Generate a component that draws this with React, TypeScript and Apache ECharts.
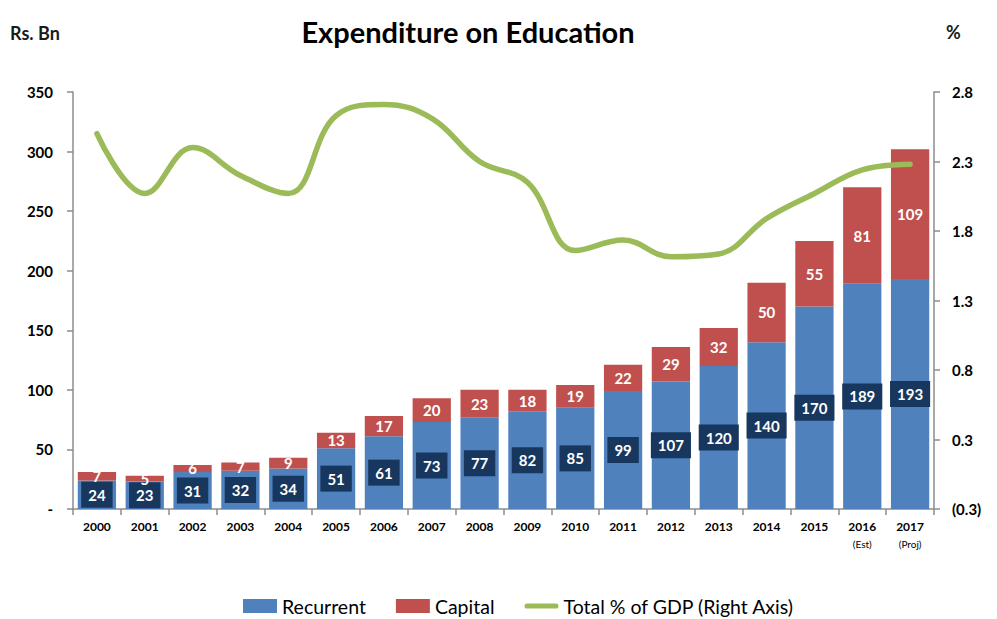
import React, { useEffect, useRef } from "react";
import * as echarts from "echarts";

const categories = ["2000","2001","2002","2003","2004","2005","2006","2007","2008","2009","2010","2011","2012","2013","2014","2015","2016","2017"];
const categoryNotes: Record<string, string> = { "2016": "(Est)", "2017": "(Proj)" };
const recurrent = [24,23,31,32,34,51,61,73,77,82,85,99,107,120,140,170,189,193];
const capital = [7,5,6,7,9,13,17,20,23,18,19,22,29,32,50,55,81,109];
const gdpShare = [2.5,2.07,2.4,2.2,2.07,2.63,2.71,2.61,2.3,2.15,1.66,1.735,1.615,1.635,1.89,2.07,2.24,2.28];
const leftTickLabels = ["-","50","100","150","200","250","300","350"];
const rightTickLabels = ["(0.3)","0.3","0.8","1.3","1.8","2.3","2.8"];

const FONT = "Lato, 'Open Sans', sans-serif";

export default function App() {
  const ref = useRef<HTMLDivElement>(null);
  useEffect(() => {
    document.body.style.margin = "0";
    if (!ref.current) return;
    const chart = echarts.init(ref.current, undefined, { renderer: "svg" });
    chart.setOption({
      animation: false,
      backgroundColor: "#ffffff",
      textStyle: { fontFamily: FONT },
      title: {
        text: "Expenditure on Education",
        left: 463,
        textAlign: "center",
        top: 12,
        textStyle: { fontFamily: FONT, fontSize: 29, fontWeight: "bold", color: "#000" },
      },
      graphic: [
        { type: "text", left: 10, top: 24, style: { text: "Rs. Bn", font: `bold 18px ${FONT}`, fill: "#1a1a1a" } },
        { type: "text", left: 946, top: 23, style: { text: "%", font: `bold 18px ${FONT}`, fill: "#1a1a1a" } },
      ],
      legend: {
        top: 596,
        left: 243,
        padding: 0,
        itemGap: 30,
        itemWidth: 34,
        itemHeight: 14,
        textStyle: { fontFamily: FONT, fontSize: 19.5, color: "#000", lineHeight: 20 },
        data: [
          { name: "Recurrent", icon: "rect" },
          { name: "Capital", icon: "rect" },
          { name: "Total % of GDP (Right Axis)", icon: "path://M3,0 H37 A3,3 0 0 1 37,6 H3 A3,3 0 0 1 3,0 Z" },
        ],
      },
      grid: { left: 73, right: 63, top: 92, bottom: 110, containLabel: false },
      xAxis: {
        type: "category",
        data: categories,
        axisLine: { lineStyle: { color: "#8c8c8c", width: 1.5 } },
        axisTick: { show: true, length: 6, lineStyle: { color: "#8c8c8c", width: 1.5 } },
        axisLabel: {
          margin: 9,
          interval: 0,
          color: "#000",
          fontFamily: FONT,
          fontSize: 12,
          fontWeight: "bold",
          lineHeight: 17,
          formatter: (v: string) => (categoryNotes[v] ? `${v}\n{s|${categoryNotes[v]}}` : v),
          rich: { s: { fontSize: 10, fontWeight: "normal", fontFamily: FONT, color: "#000", lineHeight: 17 } },
        },
      },
      yAxis: [
        {
          type: "value",
          min: 0,
          max: 350,
          interval: 50,
          splitLine: { show: false },
          axisLine: { show: true, lineStyle: { color: "#8c8c8c", width: 1.5 } },
          axisTick: { show: true, length: 6, lineStyle: { color: "#8c8c8c", width: 1.5 } },
          axisLabel: {
            margin: 20,
            color: "#000",
            fontFamily: FONT,
            fontSize: 15,
            fontWeight: "bold",
            formatter: (_v: number, i: number) => leftTickLabels[i],
          },
        },
        {
          type: "value",
          min: -0.2,
          max: 2.8,
          interval: 0.5,
          position: "right",
          splitLine: { show: false },
          axisLine: { show: true, lineStyle: { color: "#8c8c8c", width: 1.5 } },
          axisTick: { show: true, length: 6, lineStyle: { color: "#8c8c8c", width: 1.5 } },
          axisLabel: {
            margin: 18,
            color: "#000",
            fontFamily: FONT,
            fontSize: 15,
            fontWeight: "bold",
            formatter: (_v: number, i: number) => rightTickLabels[i],
          },
        },
      ],
      series: [
        {
          name: "Recurrent",
          type: "bar",
          stack: "exp",
          data: recurrent,
          barCategoryGap: "20%",
          itemStyle: { color: "#4F81BD" },
          label: {
            show: true,
            position: "inside",
            color: "#fff",
            fontFamily: FONT,
            fontSize: 15,
            fontWeight: "bold",
            backgroundColor: "#17375E",
            padding: [6, 7, 5, 7],
          },
          z: 2,
        },
        {
          name: "Capital",
          type: "bar",
          stack: "exp",
          data: capital,
          itemStyle: { color: "#C0504D" },
          label: {
            show: true,
            position: "inside",
            color: "#fff",
            fontFamily: FONT,
            fontSize: 15,
            fontWeight: "bold",
          },
          z: 3,
        },
        {
          name: "Total % of GDP (Right Axis)",
          type: "line",
          yAxisIndex: 1,
          data: gdpShare,
          smooth: 0.4,
          symbol: "none",
          lineStyle: { color: "#9BBB59", width: 5.5, cap: "round" },
          itemStyle: { color: "#9BBB59" },
          z: 5,
        },
      ],
    });
    return () => chart.dispose();
  }, []);
  return <div ref={ref} style={{ width: 997, height: 619 }} />;
}
